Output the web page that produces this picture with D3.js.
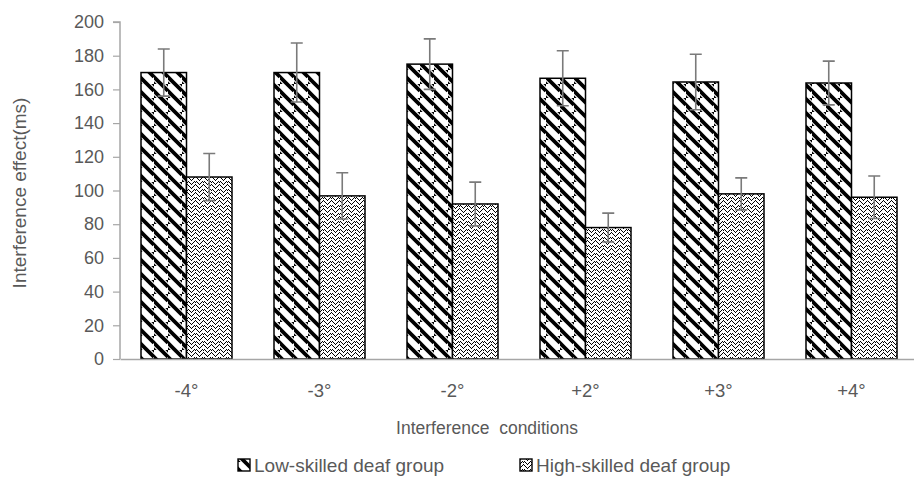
<!DOCTYPE html>
<html><head><meta charset="utf-8">
<script src="https://cdn.jsdelivr.net/npm/d3@7"></script>
<style>body{margin:0;background:#fff;}svg{display:block;font-family:Arial,"Liberation Sans",sans-serif;}</style>
</head><body>
<svg id="c" width="914" height="483"></svg>
<script>
const categories = ["-4°","-3°","-2°","+2°","+3°","+4°"];
const seriesNames = ["Low-skilled deaf group","High-skilled deaf group"];
const lowValues = [170, 170, 175, 166.6, 164.4, 163.8];
const lowErrors = [14, 17.5, 15, 16.3, 16.5, 13];
const highValues = [108, 96.8, 92, 78, 98, 96];
const highErrors = [14, 13.7, 13, 8.6, 9.5, 12.6];
const yTicks = [0,20,40,60,80,100,120,140,160,180,200];
const xTitle = "Interference  conditions";
const yTitle = "Interference effect(ms)";

const svg = d3.select("#c");
const textCol = "#595959";
const defs = svg.append("defs");
// diagonal stripe pattern
const s = 14;
const p1 = defs.append("pattern").attr("id","pLow").attr("patternUnits","userSpaceOnUse")
  .attr("width",s).attr("height",s);
p1.append("rect").attr("width",s).attr("height",s).attr("fill","#fff");
p1.append("path").attr("d",`M${-s/2},0 L${s/2},${s} M0,${-s/2} L${s},${s/2} M${s/2},${-s/2} L${s*1.5},${s/2} M${-s/2},${s/2} L${s/2},${s*1.5} M0,${s/2} L${s},${s*1.5}`)
  .attr("stroke","#000").attr("stroke-width",3.8);
// dotted chevron weave pattern (pixel tile)
const p2 = defs.append("pattern").attr("id","pHigh").attr("patternUnits","userSpaceOnUse")
  .attr("width",8).attr("height",8);
p2.append("rect").attr("width",8).attr("height",8).attr("fill","#fff");
const pix = [[0,3],[1,2],[2,1],[3,0],[4,1],[5,2],[6,3],[7,4],
             [0,7],[2,5],[4,5],[6,7],[3,6],[5,6],[1,6],[7,0]];
p2.selectAll("rect.px").data(pix).join("rect").attr("class","px")
  .attr("x",d=>d[0]).attr("y",d=>d[1]).attr("width",1).attr("height",1).attr("fill","#000");

const x0 = d3.scaleBand().domain(categories).range([120, 918]).paddingInner(0).paddingOuter(0);
const y = d3.scaleLinear().domain([0,200]).range([359, 22]);
const bw = 45.5;

// y axis
const yAxis = d3.axisLeft(y).tickValues(yTicks).tickSize(7).tickPadding(9);
const gy = svg.append("g").attr("transform","translate(120,0)").call(yAxis);
gy.select(".domain").attr("stroke","#a6a6a6").attr("stroke-width",1.5).attr("d","M-7,22H0V359");
gy.selectAll(".tick line").attr("stroke","#a6a6a6").attr("stroke-width",1.2);
gy.selectAll(".tick text").attr("fill",textCol).attr("font-size",18);

// bars
const groups = svg.append("g").selectAll("g").data(categories).join("g");
groups.append("rect")
  .attr("x",(d)=>x0(d)+x0.bandwidth()/2-bw)
  .attr("y",(d,i)=>y(lowValues[i]))
  .attr("width",bw).attr("height",(d,i)=>y(0)-y(lowValues[i]))
  .attr("fill","url(#pLow)").attr("stroke","#000").attr("stroke-width",1.5);
groups.append("rect")
  .attr("x",(d)=>x0(d)+x0.bandwidth()/2)
  .attr("y",(d,i)=>y(highValues[i]))
  .attr("width",bw).attr("height",(d,i)=>y(0)-y(highValues[i]))
  .attr("fill","url(#pHigh)").attr("stroke","#000").attr("stroke-width",1.5);

// error bars
function errBars(vals, errs, off){
  const g = svg.append("g").attr("stroke","#7a7a7a").attr("stroke-width",1.6).attr("fill","none");
  categories.forEach((c,i)=>{
    const cx = x0(c)+x0.bandwidth()/2+off;
    const t = y(vals[i]+errs[i]), b = y(vals[i]-errs[i]);
    g.append("path").attr("d",`M${cx},${t}V${b}M${cx-6},${t}H${cx+6}M${cx-6},${b}H${cx+6}`);
  });
}
errBars(lowValues, lowErrors, -bw/2);
errBars(highValues, highErrors, bw/2);

// x axis baseline
const xAxis = d3.axisBottom(x0).tickSize(0).tickPadding(25);
const gx = svg.append("g").attr("transform","translate(0,359)").call(xAxis);
gx.select(".domain").attr("stroke","#a6a6a6").attr("stroke-width",1.5);
gx.selectAll(".tick text").attr("fill",textCol).attr("font-size",18.5);

// titles
svg.append("text").attr("x",487).attr("y",434).attr("text-anchor","middle").attr("xml:space","preserve")
  .style("white-space","pre")
  .attr("fill",textCol).attr("font-size",17.5).text(xTitle);
svg.append("text").attr("transform","translate(26,193) rotate(-90)").attr("text-anchor","middle")
  .attr("fill",textCol).attr("font-size",19).text(yTitle);

// legend
const leg = [{x:238, fill:"url(#pLow)"},{x:520, fill:"url(#pHigh)"}];
leg.forEach((l,i)=>{
  svg.append("rect").attr("x",l.x).attr("y",459).attr("width",12).attr("height",12)
    .attr("fill",l.fill).attr("stroke","#000").attr("stroke-width",1.4);
  svg.append("text").attr("x",l.x+16).attr("y",472).attr("fill",textCol).attr("font-size",19)
    .text(seriesNames[i]);
});
</script>
</body></html>
